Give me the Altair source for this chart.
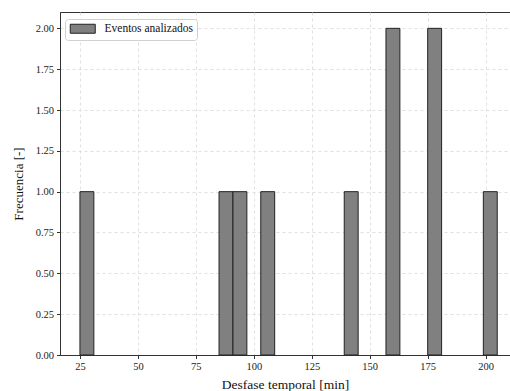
import altair as alt
import pandas as pd

# Histogram bins (min)
bin_start = [25, 85, 91, 103, 139, 157, 175, 199]
bin_end = [31, 91, 97, 109, 145, 163, 181, 205]
counts = [1, 1, 1, 1, 1, 2, 2, 1]
series = ["Eventos analizados"] * len(counts)

x_ticks = [25, 50, 75, 100, 125, 150, 175, 200]
y_ticks = [0, 0.25, 0.5, 0.75, 1.0, 1.25, 1.5, 1.75, 2.0]

df = pd.DataFrame({"start": bin_start, "end": bin_end, "count": counts, "serie": series})

FONT = "Liberation Serif"

bars = alt.Chart(df).mark_rect(stroke="#222222", strokeWidth=1).encode(
    x=alt.X(
        "start:Q",
        scale=alt.Scale(domain=[16.4, 210.5], nice=False, zero=False),
        axis=alt.Axis(
            values=x_ticks,
            format="d",
            title="Desfase temporal [min]",
            grid=True,
        ),
    ),
    x2="end:Q",
    y=alt.Y(
        "count:Q",
        scale=alt.Scale(domain=[0, 2.1], nice=False),
        axis=alt.Axis(
            values=y_ticks,
            format=".2f",
            title="Frecuencia [-]",
            grid=True,
        ),
    ),
    y2=alt.datum(0),
    color=alt.Color(
        "serie:N",
        scale=alt.Scale(range=["#808080"]),
        legend=alt.Legend(
            title=None,
            orient="none",
            legendX=5,
            legendY=7,
            symbolType="M-2.5,-0.9H2.5V0.9H-2.5Z",
            symbolSize=100,
            symbolStrokeColor="#222222",
            symbolStrokeWidth=1,
            symbolFillColor="#808080",
            symbolOpacity=1,
            symbolOffset=8,
            labelOffset=16,
            labelFont=FONT,
            labelFontSize=11.5,
            labelColor="#111111",
            fillColor="white",
            strokeColor="#d0d0d0",
            cornerRadius=3,
            padding=4,
        ),
    ),
)

chart = bars.properties(
    width=450,
    height=343,
    autosize=alt.AutoSizeParams(type="none"),
    padding={"left": 60, "top": 12, "right": 0, "bottom": 36},
).configure_view(
    stroke="#333333", strokeWidth=1
).configure_axis(
    labelFont=FONT,
    labelFontSize=10.5,
    labelColor="#222222",
    titleFont=FONT,
    titleFontSize=13.5,
    titleFontWeight="normal",
    titleColor="#111111",
    domainColor="#333333",
    domainWidth=1,
    tickColor="#333333",
    tickSize=3.5,
    labelPadding=3,
    gridColor="#d8d8d8",
    gridDash=[3, 3],
    gridWidth=0.8,
).configure_axisX(
    titlePadding=5,
).configure_axisY(
    titlePadding=10,
    titleFontSize=13,
)

chart.save("out.html", embed_options={"renderer": "svg", "actions": False})
